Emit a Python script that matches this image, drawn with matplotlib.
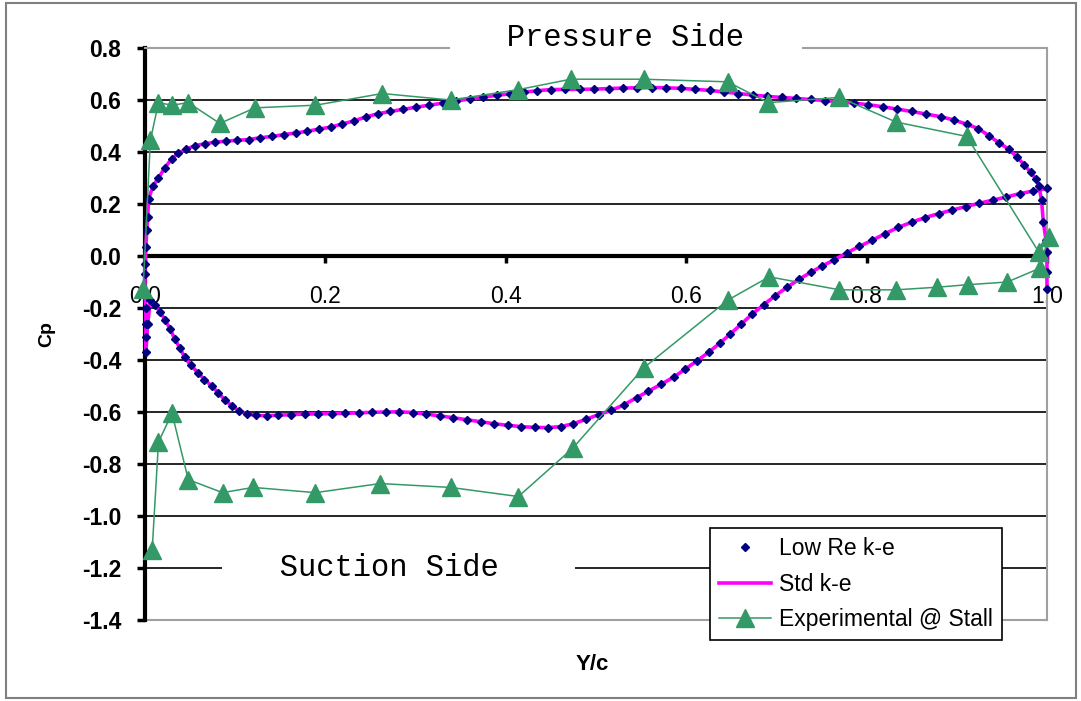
import matplotlib.pyplot as plt
from matplotlib.patches import Rectangle

plt.rcParams['font.family'] = ['Liberation Sans', 'DejaVu Sans']
plt.rcParams['axes.unicode_minus'] = False

# Low Re k-e / Std k-e, pressure side (leading edge -> trailing edge)
pressure_x = [0.000, 0.000, 0.001, 0.002, 0.003, 0.004, 0.009, 0.015, 0.022, 0.030,
              0.037, 0.045, 0.056, 0.067, 0.078, 0.090, 0.102, 0.115, 0.128, 0.141,
              0.154, 0.167, 0.180, 0.193, 0.206, 0.219, 0.232, 0.245, 0.258, 0.272,
              0.286, 0.300, 0.315, 0.330, 0.345, 0.360, 0.375, 0.390, 0.405, 0.420,
              0.435, 0.450, 0.466, 0.482, 0.498, 0.514, 0.530, 0.546, 0.562, 0.578,
              0.594, 0.610, 0.626, 0.642, 0.658, 0.674, 0.690, 0.706, 0.722, 0.738,
              0.754, 0.770, 0.786, 0.802, 0.818, 0.834, 0.850, 0.866, 0.882, 0.897,
              0.911, 0.924, 0.936, 0.947, 0.958, 0.967, 0.975, 0.982, 0.988, 0.991,
              0.994, 0.996, 0.999, 1.000, 1.000, 1.000]
pressure_cp = [-0.07, -0.03, 0.035, 0.10, 0.15, 0.22, 0.27, 0.30, 0.34, 0.375,
               0.395, 0.41, 0.425, 0.432, 0.438, 0.442, 0.445, 0.448, 0.455, 0.46,
               0.467, 0.473, 0.48, 0.488, 0.496, 0.508, 0.52, 0.535, 0.547, 0.556,
               0.564, 0.572, 0.58, 0.588, 0.596, 0.604, 0.611, 0.618, 0.624, 0.63,
               0.636, 0.64, 0.641, 0.641, 0.642, 0.644, 0.646, 0.647, 0.648, 0.647,
               0.645, 0.641, 0.637, 0.631, 0.625, 0.619, 0.614, 0.61, 0.606, 0.602,
               0.598, 0.593, 0.588, 0.582, 0.574, 0.565, 0.556, 0.546, 0.536, 0.523,
               0.507, 0.49, 0.462, 0.435, 0.41, 0.38, 0.35, 0.322, 0.295, 0.27,
               0.215, 0.13, 0.06, 0.015, -0.06, -0.125]

# suction side (leading edge -> trailing edge)
suction_x = [0.000, 0.001, 0.001, 0.001, 0.001, 0.003, 0.006, 0.011, 0.017, 0.022,
             0.028, 0.033, 0.039, 0.044, 0.051, 0.059, 0.066, 0.074, 0.081, 0.089,
             0.096, 0.104, 0.113, 0.123, 0.135, 0.148, 0.162, 0.177, 0.192, 0.207,
             0.222, 0.237, 0.252, 0.267, 0.282, 0.297, 0.312, 0.327, 0.342, 0.357,
             0.372, 0.387, 0.402, 0.417, 0.432, 0.447, 0.461, 0.475, 0.489, 0.503,
             0.517, 0.531, 0.545, 0.558, 0.572, 0.586, 0.599, 0.612, 0.625, 0.637,
             0.649, 0.661, 0.673, 0.686, 0.699, 0.712, 0.725, 0.738, 0.751, 0.764,
             0.778, 0.792, 0.806, 0.820, 0.835, 0.850, 0.865, 0.880, 0.895, 0.910,
             0.925, 0.940, 0.955, 0.970, 0.985, 1.000]
suction_cp = [-0.14, -0.20, -0.26, -0.31, -0.37, -0.26, -0.17, -0.19, -0.215, -0.245,
              -0.28, -0.32, -0.355, -0.39, -0.42, -0.45, -0.475, -0.50, -0.525, -0.555,
              -0.575, -0.595, -0.607, -0.613, -0.614, -0.612, -0.61, -0.608, -0.607, -0.606,
              -0.605, -0.603, -0.601, -0.60, -0.599, -0.602, -0.608, -0.615, -0.622, -0.63,
              -0.637, -0.645, -0.651, -0.656, -0.659, -0.66, -0.656, -0.645, -0.628, -0.61,
              -0.594, -0.572, -0.545, -0.52, -0.494, -0.466, -0.435, -0.403, -0.37, -0.336,
              -0.30, -0.262, -0.224, -0.187, -0.152, -0.12, -0.09, -0.063, -0.038, -0.015,
              0.012, 0.037, 0.06, 0.085, 0.11, 0.13, 0.148, 0.163, 0.177, 0.19,
              0.203, 0.215, 0.227, 0.24, 0.25, 0.26]

# Experimental @ Stall
exp_x = [-0.002, 0.006, 0.015, 0.030, 0.048, 0.083, 0.122, 0.189, 0.263, 0.339,
         0.414, 0.472, 0.553, 0.646, 0.691, 0.770, 0.833, 0.911, 0.991, 1.002,
         0.992, 0.956, 0.913, 0.878, 0.833, 0.770, 0.692, 0.646, 0.553, 0.474,
         0.414, 0.339, 0.261, 0.189, 0.120, 0.086, 0.048, 0.030, 0.015, 0.008]
exp_cp = [-0.125, 0.445, 0.59, 0.58, 0.59, 0.51, 0.57, 0.58, 0.625, 0.60,
          0.64, 0.68, 0.68, 0.67, 0.59, 0.61, 0.515, 0.46, 0.015, 0.075,
          -0.047, -0.10, -0.11, -0.12, -0.13, -0.13, -0.08, -0.17, -0.43, -0.74,
          -0.925, -0.89, -0.875, -0.91, -0.89, -0.91, -0.86, -0.605, -0.715, -1.13]

x_ticks = [0.0, 0.2, 0.4, 0.6, 0.8, 1.0]
y_ticks = [-1.4, -1.2, -1.0, -0.8, -0.6, -0.4, -0.2, 0.0, 0.2, 0.4, 0.6, 0.8]

# one closed loop: pressure side back to the nose, then suction side
loop_x = pressure_x[::-1] + suction_x
loop_cp = pressure_cp[::-1] + suction_cp

fig, ax = plt.subplots(figsize=(10.81, 7.01), dpi=100)
fig.subplots_adjust(left=0.1341, right=0.9685, bottom=0.1155, top=0.9315)

std, = ax.plot(loop_x, loop_cp, color='#ff00ff', lw=2.6, label='Std k-e',
               zorder=3, clip_on=False)
low, = ax.plot(loop_x, loop_cp, 'D', ls='none', color='#000080', ms=4.3,
               label='Low Re k-e', zorder=4, clip_on=False)
exp, = ax.plot(exp_x, exp_cp, '-^', color='#339966', lw=1.1, ms=13,
               label='Experimental @ Stall', zorder=5, clip_on=False)

ax.set_xlim(0, 1)
ax.set_ylim(-1.4, 0.8)
ax.set_xticks(x_ticks, labels=[f'{v:.1f}' for v in x_ticks], fontweight='bold')
ax.set_yticks(y_ticks, labels=[f'{v:.1f}' for v in y_ticks], fontweight='bold')
ax.tick_params(axis='y', direction='out', length=6, width=2.5, pad=11, labelsize=16.5)
ax.tick_params(axis='x', direction='out', length=5, width=2.5, pad=16, labelsize=16.5)

ax.spines['bottom'].set_position(('data', 0))
ax.spines['bottom'].set_linewidth(3)
ax.spines['left'].set_linewidth(3)
for side in ['top', 'right']:
    ax.spines[side].set_color('#a0a0a0')
    ax.spines[side].set_linewidth(1.5)
ax.axhline(-1.4, color='#a0a0a0', lw=1.5, clip_on=False)

ax.yaxis.grid(True, color='black', lw=1.2)
ax.set_axisbelow(True)
for gl, v in zip(ax.get_ygridlines(), y_ticks):
    if v < -1.39 or v > 0.79:
        gl.set_visible(False)

ax.set_ylabel('Cp', fontsize=14, fontweight='bold')
ax.yaxis.set_label_coords(-0.100, 0.5)
ax.set_xlabel('Y/c', fontsize=16, fontweight='bold')
ax.xaxis.set_label_coords(0.496, -0.060)

ax.text(0.533, 0.838, '   Pressure Side   ', family='Liberation Mono', fontsize=22,
        ha='center', va='center', zorder=6,
        bbox=dict(facecolor='white', edgecolor='none', pad=2))
ax.text(0.281, -1.2, '   Suction Side    ', family='Liberation Mono', fontsize=22,
        ha='center', va='center', zorder=6,
        bbox=dict(facecolor='white', edgecolor='none', pad=2))

leg = ax.legend(handles=[low, std, exp], loc='upper left', bbox_to_anchor=(0.626, 0.161),
                borderaxespad=0, fontsize=16.5, labelspacing=0.55, handlelength=2.3,
                handletextpad=0.32, borderpad=0.4, fancybox=False, framealpha=1,
                edgecolor='black')
leg.get_frame().set_linewidth(1.2)

fig.patches.append(Rectangle((6 / 1081, 3 / 701), 1070 / 1081, 695 / 701,
                             transform=fig.transFigure, fill=False,
                             edgecolor='#808080', lw=1.5))

fig.savefig('out.png', dpi=100)
